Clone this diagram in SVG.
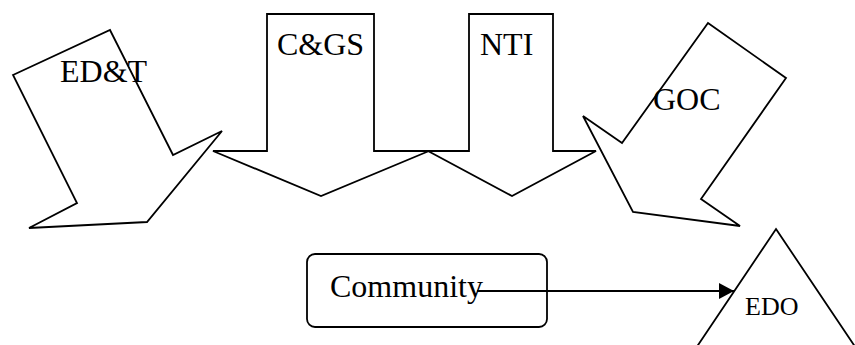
<svg xmlns="http://www.w3.org/2000/svg" width="855" height="345" viewBox="0 0 855 345">
  <style>
    .shape { fill: #ffffff; stroke: #000000; stroke-width: 1.8; stroke-linejoin: miter; }
    .lbl { font-family: "Liberation Serif", "Times New Roman", serif; font-size: 32px; fill: #000000; }
    .small { font-size: 26px; }
    .conn { stroke: #000000; stroke-width: 2; fill: none; }
  </style>
  <defs>
    <marker id="arrowhead" markerWidth="8" markerHeight="8" refX="7.5" refY="4" orient="auto" markerUnits="strokeWidth">
      <path d="M0,0 L7.5,4 L0,8 Z" fill="#000000"/>
    </marker>
  </defs>
  <rect x="0" y="0" width="855" height="345" fill="#ffffff"/>

  <g id="node-edt">
    <polygon class="shape" points="13,75 110,30 173,155 222,131 147,222 29,228 77,203"/>
    <text class="lbl" x="60" y="82">ED&amp;T</text>
  </g>

  <g id="node-cgs">
    <polygon class="shape" points="267,14 374,14 374,151 429,151 321,196 213,151 267,151"/>
    <text class="lbl" x="277" y="55">C&amp;GS</text>
  </g>

  <g id="node-nti">
    <polygon class="shape" points="469,14 553,14 553,151 596,151 512,196 428,151 469,151"/>
    <text class="lbl" x="480" y="55">NTI</text>
  </g>
  <line class="shape" x1="374" y1="151" x2="469" y2="151"/>

  <g id="node-goc">
    <polygon class="shape" points="708,23 786,78 701,199 740,226 633,212 583,116 622,143"/>
    <text class="lbl" x="653" y="110">GOC</text>
  </g>

  <g id="node-community">
    <rect class="shape" x="307" y="254" width="240" height="73" rx="8" ry="8"/>
    <text class="lbl" x="330" y="297">Community</text>
  </g>

  <g id="node-edo">
    <polygon class="shape" points="776,229 864,360 688,360"/>
    <text class="lbl small" x="745" y="315">EDO</text>
  </g>

  <g id="connectors">
    <line class="conn" x1="477" y1="291" x2="734" y2="291" marker-end="url(#arrowhead)"/>
  </g>
</svg>
